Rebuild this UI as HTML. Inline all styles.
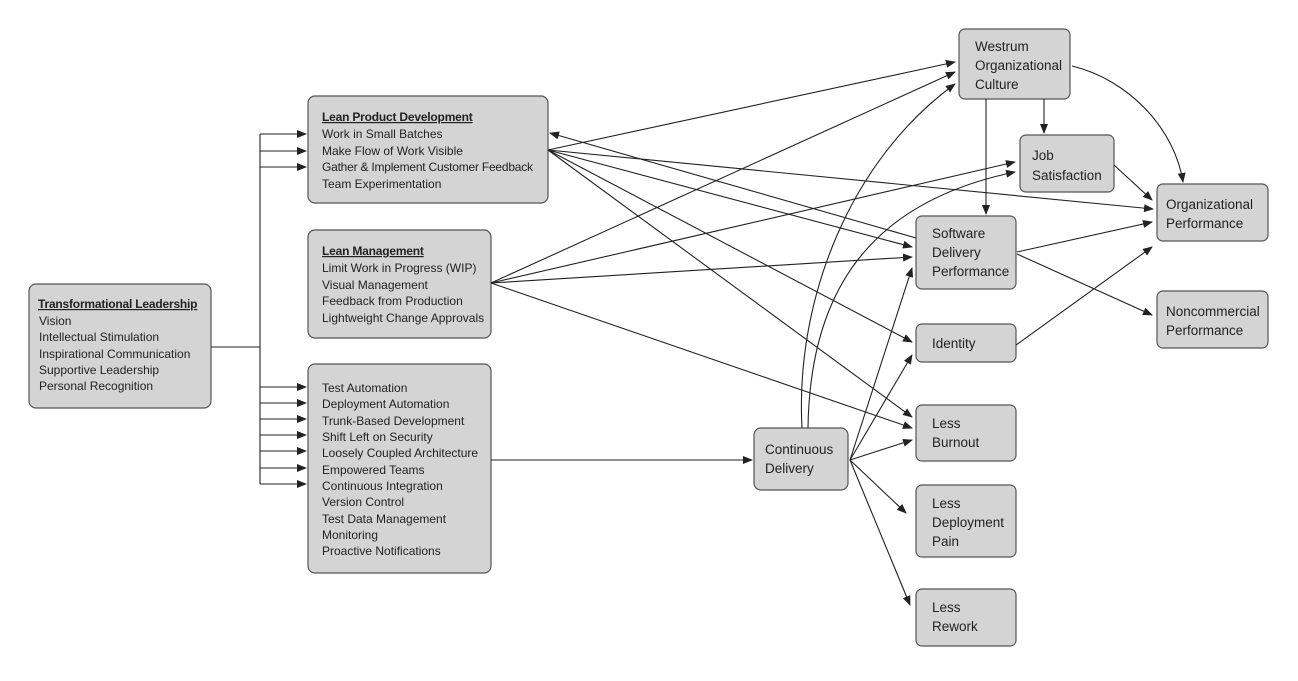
<!DOCTYPE html>
<html><head><meta charset="utf-8"><style>
body{margin:0;background:#fff;}
svg{display:block;}
text{font-family:"Liberation Sans",sans-serif;font-size:12px;fill:#222;}
.b{fill:#d4d4d4;stroke:#555;stroke-width:1.2;}
.l{stroke:#222;stroke-width:1.1;fill:none;}
.t{font-size:12px;letter-spacing:-0.2px;}
.r{font-size:13.5px;}
</style></head><body>
<svg width="1298" height="681" viewBox="0 0 1298 681">
<defs><marker id="a" markerWidth="10" markerHeight="8" refX="9" refY="4" orient="auto" markerUnits="userSpaceOnUse"><path d="M0,0 L10,4 L0,8 z" fill="#222"/></marker></defs>

<rect class="b" x="29" y="284" width="182" height="124" rx="7"/>
<rect class="b" x="308" y="96" width="240" height="107" rx="7"/>
<rect class="b" x="308" y="230" width="183" height="108" rx="7"/>
<rect class="b" x="308" y="364" width="183" height="209" rx="7"/>
<rect class="b" x="754" y="428" width="94" height="62" rx="7"/>
<rect class="b" x="959" y="29" width="111" height="70" rx="6"/>
<rect class="b" x="1020" y="135" width="94" height="57" rx="6"/>
<rect class="b" x="1157" y="184" width="111" height="57" rx="6"/>
<rect class="b" x="916" y="216" width="100" height="73" rx="6"/>
<rect class="b" x="1157" y="291" width="111" height="57" rx="6"/>
<rect class="b" x="916" y="324" width="100" height="38" rx="6"/>
<rect class="b" x="916" y="405" width="100" height="56" rx="6"/>
<rect class="b" x="916" y="485" width="100" height="72" rx="6"/>
<rect class="b" x="916" y="589" width="100" height="57" rx="6"/>

<text x="38" y="308" class="t" text-decoration="underline" font-weight="bold">Transformational Leadership</text>
<text x="39" y="325">Vision</text>
<text x="39" y="341">Intellectual Stimulation</text>
<text x="39" y="358">Inspirational Communication</text>
<text x="39" y="374">Supportive Leadership</text>
<text x="39" y="390">Personal Recognition</text>

<text x="322" y="121" class="t" text-decoration="underline" font-weight="bold">Lean Product Development</text>
<text x="322" y="138">Work in Small Batches</text>
<text x="322" y="155">Make Flow of Work Visible</text>
<text x="322" y="171" textLength="211">Gather &amp; Implement Customer Feedback</text>
<text x="322" y="188">Team Experimentation</text>

<text x="322" y="255" class="t" text-decoration="underline" font-weight="bold">Lean Management</text>
<text x="322" y="272">Limit Work in Progress (WIP)</text>
<text x="322" y="289">Visual Management</text>
<text x="322" y="305">Feedback from Production</text>
<text x="322" y="322">Lightweight Change Approvals</text>

<text x="322" y="392">Test Automation</text>
<text x="322" y="408">Deployment Automation</text>
<text x="322" y="425">Trunk-Based Development</text>
<text x="322" y="441">Shift Left on Security</text>
<text x="322" y="457">Loosely Coupled Architecture</text>
<text x="322" y="474">Empowered Teams</text>
<text x="322" y="490">Continuous Integration</text>
<text x="322" y="506">Version Control</text>
<text x="322" y="523">Test Data Management</text>
<text x="322" y="539">Monitoring</text>
<text x="322" y="555">Proactive Notifications</text>

<text class="r" x="765" y="454">Continuous</text><text class="r" x="765" y="473">Delivery</text>
<text class="r" x="975" y="51">Westrum</text><text class="r" x="975" y="70">Organizational</text><text class="r" x="975" y="89">Culture</text>
<text class="r" x="1032" y="160">Job</text><text class="r" x="1032" y="180">Satisfaction</text>
<text class="r" x="1166" y="209">Organizational</text><text class="r" x="1166" y="228">Performance</text>
<text class="r" x="932" y="238">Software</text><text class="r" x="932" y="257">Delivery</text><text class="r" x="932" y="276">Performance</text>
<text class="r" x="1166" y="316">Noncommercial</text><text class="r" x="1166" y="335">Performance</text>
<text class="r" x="932" y="348">Identity</text>
<text class="r" x="932" y="428">Less</text><text class="r" x="932" y="447">Burnout</text>
<text class="r" x="932" y="508">Less</text><text class="r" x="932" y="527">Deployment</text><text class="r" x="932" y="546">Pain</text>
<text class="r" x="932" y="612">Less</text><text class="r" x="932" y="631">Rework</text>

<path class="l" d="M211,347 H260 M260,134 V484"/>
<g marker-end="url(#a)">
<path class="l" d="M260,134 H306"/><path class="l" d="M260,151 H306"/><path class="l" d="M260,167 H306"/>
<path class="l" d="M260,387 H306"/><path class="l" d="M260,403 H306"/><path class="l" d="M260,419 H306"/>
<path class="l" d="M260,435 H306"/><path class="l" d="M260,451 H306"/><path class="l" d="M260,468 H306"/>
<path class="l" d="M260,484 H306"/>
<path class="l" d="M491,460 H752"/>

<path class="l" d="M548,150 L955,62"/>
<path class="l" d="M548,150 L1153,209"/>
<path class="l" d="M548,150 L912,247"/>
<path class="l" d="M548,150 L912,342"/>
<path class="l" d="M548,150 L912,417"/>
<path class="l" d="M916,238 L550,133"/>
<path class="l" d="M491,283 L955,72"/>
<path class="l" d="M491,283 L1015,162"/>
<path class="l" d="M491,283 L912,257"/>
<path class="l" d="M491,283 L912,428"/>
<path class="l" d="M802,428 C795,300 850,160 955,84"/>
<path class="l" d="M808,428 C810,280 880,200 1015,172"/>
<path class="l" d="M850,460 L912,268"/>
<path class="l" d="M850,460 L912,355"/>
<path class="l" d="M850,460 L912,440"/>
<path class="l" d="M850,460 L906,513"/>
<path class="l" d="M850,460 L910,605"/>
<path class="l" d="M986,99 V214"/>
<path class="l" d="M1044,99 V133"/>
<path class="l" d="M1072,66 C1130,80 1175,130 1183,182"/>
<path class="l" d="M1114,165 L1152,200"/>
<path class="l" d="M1017,252 L1152,222"/>
<path class="l" d="M1017,254 L1152,315"/>
<path class="l" d="M1016,345 L1152,247"/>
</g>
</svg>
</body></html>
